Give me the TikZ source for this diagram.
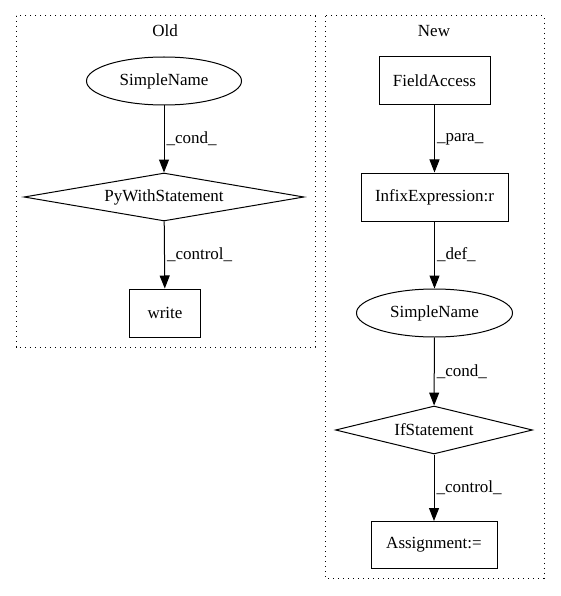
\documentclass[tikz,border=0pt]{standalone}
\usepackage{fontspec}
\setmainfont{Liberation Serif}
\usetikzlibrary{shapes.geometric,arrows.meta}

\tikzset{
  box/.style={draw, rectangle, line width=1pt, inner sep=0pt},
  oval/.style={draw, ellipse, line width=1pt, inner sep=0pt, minimum width=155pt, minimum height=48pt},
  rhomb/.style={draw, diamond, line width=1pt, inner sep=0pt, minimum height=48pt},
  cluster/.style={line width=1pt, dash pattern=on 1.2pt off 3.8pt},
  edge/.style={-{Triangle[length=13pt,width=10pt]}, line width=1pt},
  elabel/.style={right, midway, inner sep=2pt}
}

\begin{document}
\begin{tikzpicture}[x=1pt, y=-1pt, font=\fontsize{17pt}{19pt}\selectfont]
  \useasboundingbox (0,0) rectangle (560,596);

  % old graph
  \draw [cluster] (16,16) rectangle (315,347) ; % cluster frame
  \node at (165,31) {Old};
    \node [oval] (oldname) at (164,81) {SimpleName};
    \node [rhomb, aspect=5.83, minimum width=280pt] (oldwith) at (164,197) {PyWithStatement};
    \node [box, minimum width=71pt, minimum height=48pt] (oldwrite) at (165,313) {write};
  \draw [edge] (oldname) -- node[elabel] {\_cond\_} (oldwith) ;
  \draw [edge] (oldwith) -- node[elabel] {\_control\_} (oldwrite) ;

  % new graph
  \draw [cluster] (325,16) rectangle (544,578) ; % cluster frame
  \node at (434,31) {New};
    \node [box, minimum width=111pt, minimum height=48pt] (newfield) at (434.5,81) {FieldAccess};
    \node [box, minimum width=147pt, minimum height=48pt] (newinfix) at (434.5,197) {InfixExpression:r};
    \node [oval, minimum width=156pt] (newname) at (434.5,313) {SimpleName};
    \node [rhomb, aspect=4.1, minimum width=197pt] (newif) at (434,430) {IfStatement};
    \node [box, minimum width=126pt, minimum height=47pt] (newassign) at (434,545) {Assignment:=};
  \draw [edge] (newfield) -- node[elabel] {\_para\_} (newinfix) ;
  \draw [edge] (newinfix) -- node[elabel] {\_def\_} (newname) ;
  \draw [edge] (newname) -- node[elabel] {\_cond\_} (newif) ;
  \draw [edge] (newif) -- node[elabel] {\_control\_} (newassign) ;
\end{tikzpicture}
\end{document}
